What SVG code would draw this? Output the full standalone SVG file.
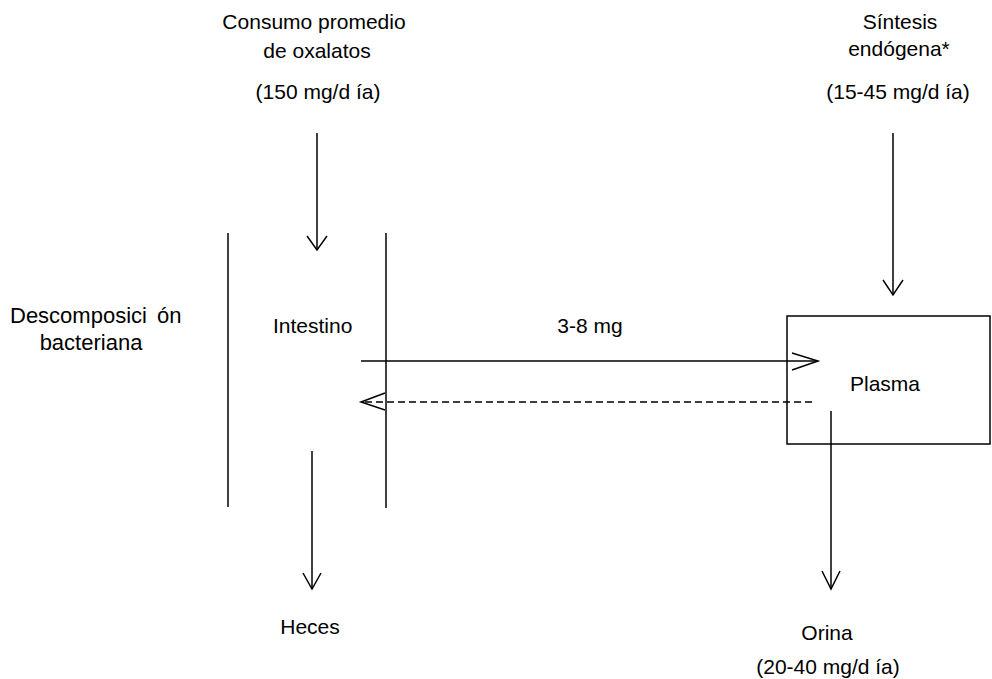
<svg xmlns="http://www.w3.org/2000/svg" width="992" height="679" viewBox="0 0 992 679">
  <style>
    text { font-family: "Liberation Sans", Arial, sans-serif; font-size: 21px; fill: #000; }
    .mid { text-anchor: middle; }
    .big { font-size: 22px; }
    .ln { stroke: #000; stroke-width: 1.5; fill: none; }
    .dash { stroke-dasharray: 7 4; }
    .head { stroke: #000; stroke-width: 1.5; fill: none; stroke-linejoin: miter; }
  </style>
  <rect width="992" height="679" fill="#fff"/>

  <!-- intestinal wall lines -->
  <g id="intestine-walls">
    <line class="ln" x1="228" y1="233" x2="228" y2="507"/>
    <line class="ln" x1="386" y1="233" x2="386" y2="508"/>
  </g>

  <g id="intake">
    <text class="mid" x="314" y="29">Consumo promedio</text>
    <text class="mid" x="317" y="58">de oxalatos</text>
    <text class="mid" x="318" y="99">(150 mg/d ía)</text>
  </g>

  <g id="synthesis">
    <text class="mid" x="900" y="29">Síntesis</text>
    <text class="mid" x="899" y="56">endógena*</text>
    <text class="mid" x="898" y="99">(15-45 mg/d ía)</text>
  </g>

  <g id="bacterial">
    <text class="big" x="10" y="323">Descomposici<tspan dx="10">ón</tspan></text>
    <text class="mid big" x="91" y="350">bacteriana</text>
  </g>

  <g id="intestino">
    <text x="273" y="333">Intestino</text>
  </g>

  <g id="plasma">
    <rect class="ln" x="787" y="316" width="203" height="128"/>
    <text class="mid" x="885" y="391">Plasma</text>
  </g>

  <g id="heces">
    <text class="mid" x="310" y="634">Heces</text>
  </g>

  <g id="orina">
    <text class="mid" x="827" y="640">Orina</text>
    <text class="mid" x="828" y="674">(20-40 mg/d ía)</text>
  </g>

  <!-- flows -->
  <g id="connectors">
    <!-- intake into gut -->
    <line class="ln" x1="317" y1="133" x2="317" y2="250"/>
    <polyline class="head" points="307,236 317,250 327,236"/>

    <!-- endogenous synthesis into plasma -->
    <line class="ln" x1="893" y1="133" x2="893" y2="295"/>
    <polyline class="head" points="883,280 893,295 903,280"/>

    <!-- absorption: gut to plasma -->
    <line class="ln" x1="361" y1="361" x2="818" y2="361"/>
    <polyline class="head" points="792,353 818,361 792,370"/>
    <text class="mid" x="590" y="333">3-8 mg</text>

    <!-- secretion: plasma back to gut -->
    <line class="ln dash" x1="812" y1="402" x2="362" y2="402"/>
    <polyline class="head" points="385,393 361,402 385,410"/>

    <!-- gut to faeces -->
    <line class="ln" x1="312" y1="451" x2="312" y2="589"/>
    <polyline class="head" points="303,573 312,589 321,573"/>

    <!-- plasma to urine -->
    <line class="ln" x1="831" y1="411" x2="831" y2="589"/>
    <polyline class="head" points="822,571 831,589 840,571"/>
  </g>
</svg>
